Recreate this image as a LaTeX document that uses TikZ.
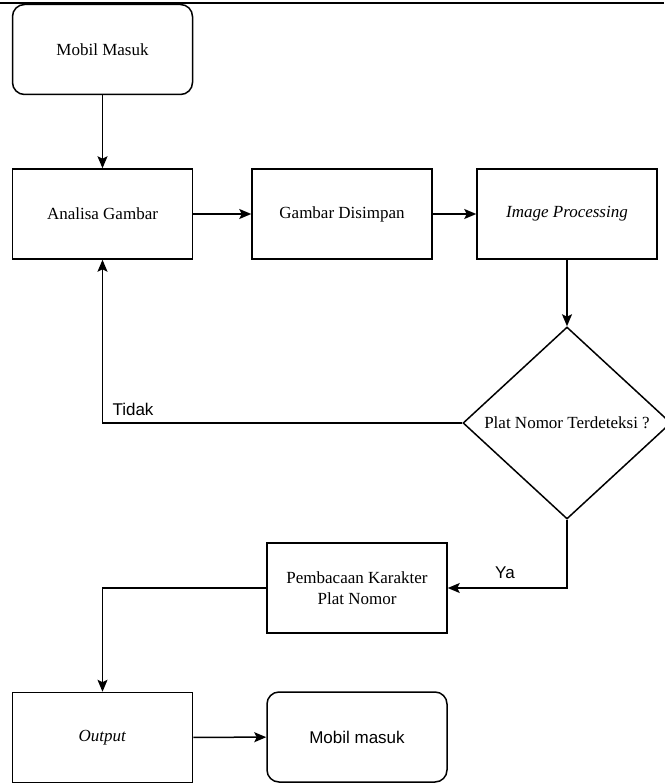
\documentclass[tikz,border=0pt]{standalone}
\usepackage{fontspec}
\setmainfont{Liberation Serif}
\setsansfont{Liberation Sans}
\usetikzlibrary{shapes.geometric, arrows.meta}

\tikzset{
	box/.style={draw, line width=1.5pt, minimum width=180pt, minimum height=90pt, inner sep=2pt, align=center, font=\fontsize{17}{21}\selectfont},
	rbox/.style={box, rounded corners=12pt},
	decide/.style={draw, diamond, line width=1.5pt, minimum width=208pt, minimum height=192pt, inner sep=0pt},
	flow/.style={line width=1.5pt, -{Stealth[length=12pt, width=10pt, inset=2.5pt]}},
	lbl/.style={font=\sffamily\fontsize{17}{19}\selectfont, inner sep=0pt}
}

\begin{document}
\begin{tikzpicture}[x=1pt, y=-1pt]

\useasboundingbox (0,0) rectangle (664,783);

% page rule at the top

	\draw[line width=2pt] (0,3) -- (664,3);

% Place nodes.

	\node[rbox] (masuk) at (102.5, 49.5) {Mobil Masuk};
	\node[box] (analisa) at (102.5, 214) {Analisa Gambar};
	\node[box] (simpan) at (342, 214) {Gambar Disimpan};
	\node[box] (proses) at (567, 214) {\textit{Image Processing}};

	\node[decide] (deteksi) at (567, 423) {};
	\node[box, draw=none, minimum width=0pt, minimum height=0pt] (deteksiText) at (deteksi.center) {Plat Nomor Terdeteksi ?};

	\node[box] (baca) at (357, 588) {Pembacaan Karakter\\Plat Nomor};
	\node[box] (output) at (102.5, 737.5) {\textit{Output}};
	\node[rbox, font=\sffamily\fontsize{17}{21}\selectfont] (selesai) at (357, 737) {Mobil masuk};

% Draw connectors.

	\draw[flow] (masuk) -- (analisa);
	\draw[flow] (analisa) -- (simpan);
	\draw[flow] (simpan) -- (proses);
	\draw[flow] (proses) -- (deteksi.north);

	\draw[flow] (deteksi.west) -| (analisa.south);
	\draw[flow] (deteksi.south) |- (baca.east);

	\draw[flow] (baca.west) -| (output.north);
	\draw[flow] (output) -- (selesai);

% Branch labels.

	\node[lbl] (tidak) at (133, 409) {Tidak};
	\node[lbl] (ya) at (505, 573) {Ya};

\end{tikzpicture}
\end{document}
